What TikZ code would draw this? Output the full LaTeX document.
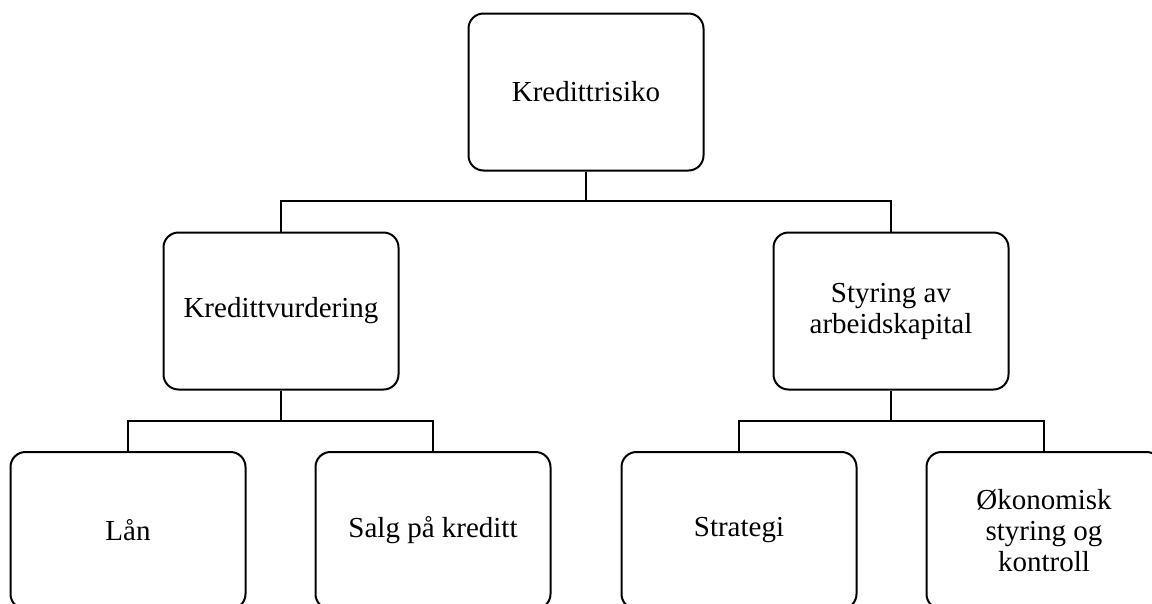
\documentclass[tikz,border=0pt]{standalone}
\usepackage{fontspec}
\setmainfont{Liberation Serif}
\begin{document}
\begin{tikzpicture}[x=1pt,y=-1pt,
  box/.style={draw, line width=2pt, rounded corners=15pt, rectangle,
    minimum width=235pt, minimum height=157pt, align=center,
    font=\fontsize{29}{31}\selectfont, inner sep=0pt},
  conn/.style={draw, line width=2pt}]
\useasboundingbox (0,0) rectangle (1152,603);
\clip (0,0) rectangle (1152,603);
\node[box] (top) at (586,92) {Kredittrisiko};
\node[box] (ml) at (281,311) {Kredittvurdering};
\node[box] (mr) at (891,311) {Styring av\\arbeidskapital};
\node[box] (b1) at (128,530.5) {Lån};
\node[box] (b2) at (433,530.5) {Salg på kreditt};
\node[box] (b3) at (739,530.5) {Strategi};
\node[box] (b4) at (1044,530.5) {Økonomisk\\styring og\\kontroll};
\coordinate (j1) at (586,201);
\coordinate (j2) at (281,421);
\coordinate (j3) at (891,421);
\draw[conn] (top.south) -- (j1);
\draw[conn] (ml.north) |- (j1) -| (mr.north);
\draw[conn] (ml.south) -- (j2);
\draw[conn] (b1.north) |- (j2) -| (b2.north);
\draw[conn] (mr.south) -- (j3);
\draw[conn] (b3.north) |- (j3) -| (b4.north);
\end{tikzpicture}
\end{document}
